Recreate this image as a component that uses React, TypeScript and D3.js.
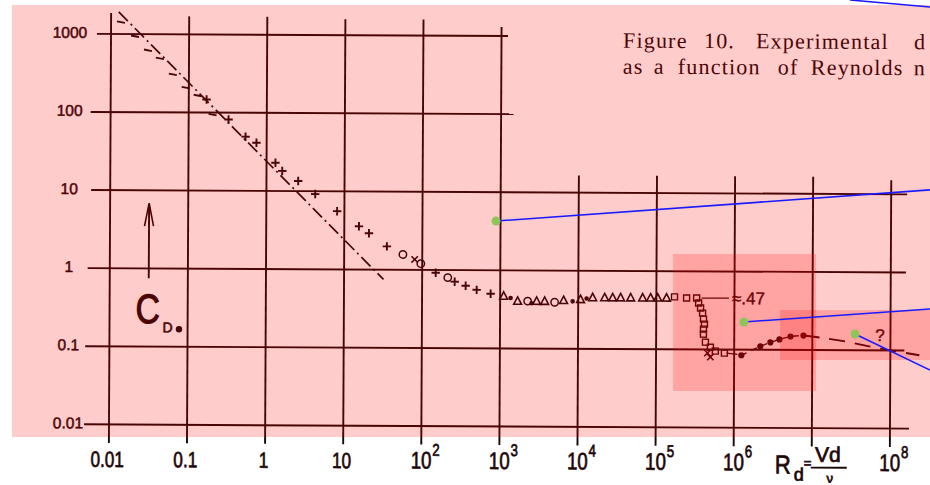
import React from "react";
import * as d3 from "d3";

const W = 930;
const H = 485;

// ---- grid (decade lines) ----
const xDecades = [0.01, 0.1, 1, 10, 100, 1e3, 1e4, 1e5, 1e6, 1e7, 1e8];
const xDecadeTop = [1857, 1700, 1700, 1603, 1603, 1304, 16.6, 16.6, 16.6, 16.6, 15.1];
const xDecadeBottom = 0.0058;
const yDecades = [1000, 100, 10, 1, 0.1, 0.01];
const yDecadeLeft = [0.0066, 0.00555, 0.0057, 0.0052, 0.0049, 0.0048];
const yDecadeRight = [1210, 1445, 1.6e8, 1.56e8, 1.51e8, 1.75e8];

// ---- tick labels ----
const xTickValues = [0.01, 0.1, 1, 10, 100, 1e3, 1e4, 1e5, 1e6, 1e8];
const xTickBase = ["0.01", "0.1", "1", "10", "10", "10", "10", "10", "10", "10"];
const xTickExp = ["", "", "", "", "2", "3", "4", "5", "6", "8"];
const yTickValues = [1000, 100, 10, 1, 0.1, 0.01];
const yTickLabels = ["1000", "100", "10", "1", "0.1", "0.01"];

// ---- Stokes line (dash-dot) ----
const stokesRe = [0.0125, 32];
const stokesCd = [1920, 0.75];

// ---- data series ----
const dashRe = [0.0134, 0.0203, 0.0298, 0.0424, 0.0622, 0.0912, 0.13, 0.202];
const dashCd = [1426, 942, 624, 493, 308, 209, 166, 94.6];

const plusRe = [0.169, 0.324, 0.536, 0.74, 1.3, 1.59, 2.55, 4.22, 8.07, 15.4, 20.7, 35.2, 149, 261, 361, 500, 755];
const plusCd = [147, 81.7, 49.4, 41.4, 23.0, 18.1, 13.5, 9.2, 5.57, 3.58, 2.92, 1.99, 0.92, 0.71, 0.63, 0.56, 0.5];

const circleRe = [56.5, 96, 213, 2250, 4990];
const circleCd = [1.57, 1.2, 0.8, 0.405, 0.393];

const crossRe = [80, 454000, 496000];
const crossCd = [1.36, 0.09, 0.08];

const triRe = [1109, 1675, 2933, 3715, 6500, 10700, 15300, 21800, 27600, 34900, 46900, 66800, 84500, 104000, 135000];
const triCd = [0.469, 0.405, 0.405, 0.405, 0.417, 0.43, 0.455, 0.455, 0.455, 0.455, 0.455, 0.455, 0.455, 0.455, 0.455];

const smallDotRe = [1362, 2530, 8480, 12800];
const smallDotCd = [0.442, 0.381, 0.405, 0.442];

const squareRe = [171000, 244000, 328000, 348000, 369000, 392000, 403000, 415000, 403000, 403000, 428000, 496000, 574000, 750000];
const squareCd = [0.469, 0.455, 0.455, 0.393, 0.339, 0.292, 0.245, 0.211, 0.182, 0.157, 0.124, 0.107, 0.0955, 0.09];

const superRe = [1.236e6, 2.16e6, 2.9e6, 3.79e6, 5.25e6, 7.69e6];
const superCd = [0.0848, 0.1107, 0.1245, 0.136, 0.1485, 0.153];

const linkRe = [7.94e5, 1.1e6];
const linkCd = [0.09, 0.087];

const extRe = [7.69e6, 1.31e7, 2.81e7, 6.82e7, 2.35e8];
const extCd = [0.153, 0.144, 0.128, 0.107, 0.0873];

const leaderRe = [3.8e5, 8.5e5];
const leaderCd = [0.455, 0.455];
const leaderLabel = "≈.47";
const leaderLabelAt = [9.3e5, 0.381];
const queryLabel = "?";
const queryLabelAt = [6.4e7, 0.132];

// ---- overlay annotations ----
const markerRe = [875, 1.31e6, 3.46e7];
const markerCd = [4.27, 0.218, 0.153];
const markerEndRe = [3.16e8, 3.16e8, 3.16e8];
const markerEndCd = [10.7, 0.32, 0.0528];
const topLineRe = [2.98e7, 3.16e8];
const topLineCd = [2890, 2350];
const highlightRe = [[1.62e5, 1.1e7], [3.8e6, 3.3e8]];
const highlightCd = [[1.62, 0.0285], [0.31, 0.071]];

// caption words and their left edges
const captionLine1 = ["Figure", "10.", "Experimental", "d"];
const captionLine1X = [622, 703, 755, 913];
const captionLine2 = ["as", "a", "function", "of", "Reynolds", "n"];
const captionLine2X = [622, 653, 677, 777, 810, 913];

const INK = "#1c0606";
const HAND = "'Liberation Sans', Arial, sans-serif";

export default function App() {
  const x = d3.scaleLog().domain([0.01, 1e8]).range([110, 891]);
  const y = d3.scaleLog().domain([0.01, 1000]).range([426.5, 36]);
  const pts = (re: number[], cd: number[]) => re.map((r, i) => [r, cd[i]] as [number, number]);
  const line = d3.line<[number, number]>().x((d) => x(d[0])).y((d) => y(d[1]));
  const curve = d3
    .line<[number, number]>()
    .x((d) => x(d[0]))
    .y((d) => y(d[1]))
    .curve(d3.curveCatmullRom);

  const markers = (re: number[], cd: number[], kind: string) =>
    pts(re, cd).map(([r, c], i) => {
      const cx = x(r);
      const cy = y(c);
      const t = `translate(${cx},${cy})`;
      if (kind === "plus")
        return <path key={i} transform={t} d="M-4.2,0H4.2M0,-4.2V4.2" stroke={INK} strokeWidth={1.9} fill="none" />;
      if (kind === "dash")
        return <path key={i} transform={t} d="M-4,-0.6L4,0.9" stroke={INK} strokeWidth={1.9} fill="none" />;
      if (kind === "circle")
        return <circle key={i} cx={cx} cy={cy} r={3.7} stroke={INK} strokeWidth={1.5} fill="none" />;
      if (kind === "cross")
        return <path key={i} transform={t} d="M-3.2,-3.2L3.2,3.2M-3.2,3.2L3.2,-3.2" stroke={INK} strokeWidth={1.5} fill="none" />;
      if (kind === "tri")
        return <path key={i} transform={t} d="M0,-4.2L3.9,3.2L-3.9,3.2Z" stroke={INK} strokeWidth={1.6} fill="none" />;
      if (kind === "square")
        return <rect key={i} x={cx - 3} y={cy - 3} width={6} height={6} stroke={INK} strokeWidth={1.4} fill="none" />;
      if (kind === "dot") return <circle key={i} cx={cx} cy={cy} r={2.3} fill={INK} />;
      return <circle key={i} cx={cx} cy={cy} r={3.1} fill={INK} />;
    });

  return (
    <svg
      width={W}
      height={H}
      viewBox={`0 0 ${W} ${H}`}
      style={{ position: "absolute", left: 0, top: 0, display: "block", background: "#fff" }}
    >
      <defs>
        <clipPath id="page">
          <rect x={0} y={0} width={W} height={H} />
        </clipPath>
      </defs>
      <g clipPath="url(#page)">
        <g transform="rotate(0.3 500 230)">
          {/* grid */}
          {xDecades.map((v, i) => (
            <line key={"gx" + i} x1={x(v)} x2={x(v)} y1={y(xDecadeTop[i])} y2={y(xDecadeBottom)} stroke={INK} strokeWidth={1.9} />
          ))}
          {yDecades.map((v, i) => (
            <line key={"gy" + i} x1={x(yDecadeLeft[i])} x2={x(yDecadeRight[i])} y1={y(v)} y2={y(v)} stroke={INK} strokeWidth={1.9} />
          ))}

          {/* y tick labels */}
          {yTickValues.map((v, i) => (
            <text
              key={"yt" + i}
              x={69}
              y={y(v) + 4}
              textAnchor="middle"
              fontFamily={HAND}
              fontSize={15.5}
              fill={INK}
              stroke={INK}
              strokeWidth={0.5}
            >
              {yTickLabels[i]}
            </text>
          ))}

          {/* x tick labels */}
          {xTickValues.map((v, i) => (
            <g key={"xt" + i} transform={`translate(${x(v)},469) scale(0.78,1)`}>
              <text
                x={xTickExp[i] ? -13.4 : -2}
                y={0}
                textAnchor={xTickExp[i] ? "start" : "middle"}
                fontFamily={HAND}
                fontSize={xTickExp[i] ? 24 : 22}
                fill={INK}
                stroke={INK}
                strokeWidth={0.7}
              >
                {xTickBase[i]}
                {xTickExp[i] ? (
                  <tspan dy={-13} dx={1} fontSize={17}>
                    {xTickExp[i]}
                  </tspan>
                ) : null}
              </text>
            </g>
          ))}

          {/* x axis title R_d = Vd/ν */}
          <g fontFamily={HAND} fill={INK} stroke={INK} strokeWidth={0.7}>
            <g transform="translate(776,472) scale(0.85,1)">
              <text x={0} y={0} fontSize={26}>R</text>
            </g>
            <text x={795} y={479} fontSize={18}>d</text>
            <text x={805} y={466} fontSize={13}>=</text>
            <text x={829} y={460} fontSize={21} textAnchor="middle">Vd</text>
            <text x={831} y={481} fontSize={13} textAnchor="middle">ν</text>
          </g>
          <line x1={812} x2={848} y1={466} y2={466} stroke={INK} strokeWidth={1.9} />

          {/* y axis title */}
          <line x1={149} x2={149} y1={280} y2={206} stroke={INK} strokeWidth={1.9} />
          <path d="M144.5,228L149,205L153.5,228" stroke={INK} strokeWidth={1.6} fill="none" />
          <g transform="translate(136,325) scale(0.82,1)">
            <text x={0} y={0} fontFamily={HAND} fontSize={41} fill={INK} stroke={INK} strokeWidth={1.2}>C</text>
          </g>
          <text x={163} y={334} fontFamily={HAND} fontSize={14} fill={INK} stroke={INK} strokeWidth={0.6}>D</text>
          <circle cx={179.5} cy={331} r={3.2} fill={INK} />

          {/* Stokes dash-dot line */}
          <path d={line(pts(stokesRe, stokesCd)) || ""} stroke={INK} strokeWidth={1.7} fill="none" strokeDasharray="13 4 2 4" />

          {/* curves */}
          <path d={line(pts(leaderRe, leaderCd)) || ""} stroke={INK} strokeWidth={1.3} fill="none" />
          <path d={line(pts(linkRe, linkCd)) || ""} stroke={INK} strokeWidth={1.4} fill="none" />
          <path d={curve(pts(superRe, superCd)) || ""} stroke={INK} strokeWidth={1.4} fill="none" strokeDasharray="6 5" />
          <path d={curve(pts(extRe, extCd)) || ""} stroke={INK} strokeWidth={1.9} fill="none" strokeDasharray="16 10" />

          {/* markers */}
          {markers(dashRe, dashCd, "dash")}
          {markers(plusRe, plusCd, "plus")}
          {markers(circleRe, circleCd, "circle")}
          {markers(crossRe, crossCd, "cross")}
          {markers(triRe, triCd, "tri")}
          {markers(smallDotRe, smallDotCd, "dot")}
          {markers(squareRe, squareCd, "square")}
          {markers(superRe, superCd, "big")}

          <text x={x(leaderLabelAt[0])} y={y(leaderLabelAt[1])} fontFamily={HAND} fontSize={17} fill={INK} stroke={INK} strokeWidth={0.4}>
            {leaderLabel}
          </text>
          <text x={x(queryLabelAt[0])} y={y(queryLabelAt[1])} fontFamily={HAND} fontSize={17} fill={INK} stroke={INK} strokeWidth={0.4}>
            {queryLabel}
          </text>

          {/* caption */}
          <g fontFamily="'Liberation Serif', 'DejaVu Serif', serif" fontSize={22} letterSpacing={1.2} fill={INK}>
            <text y={47}>
              {captionLine1.map((w, i) => (
                <tspan key={"c1" + i} x={captionLine1X[i]}>
                  {w}
                </tspan>
              ))}
            </text>
            <text y={73}>
              {captionLine2.map((w, i) => (
                <tspan key={"c2" + i} x={captionLine2X[i]}>
                  {w}
                </tspan>
              ))}
            </text>
          </g>
        </g>

        {/* pink sheet */}
        <rect x={12} y={5} width={W - 12} height={432} fill="#ff0000" opacity={0.2} />
        {/* highlight rectangles */}
        {highlightRe.map((r, i) => (
          <rect
            key={"hl" + i}
            x={x(r[0])}
            y={y(highlightCd[i][0])}
            width={x(r[1]) - x(r[0])}
            height={y(highlightCd[i][1]) - y(highlightCd[i][0])}
            fill="#ff0000"
            opacity={0.2}
          />
        ))}

        {/* blue pointer lines */}
        <path d={line(pts(topLineRe, topLineCd)) || ""} stroke="#1a1aff" strokeWidth={1.6} fill="none" />
        {markerRe.map((r, i) => (
          <g key={"mk" + i}>
            <line x1={x(r)} y1={y(markerCd[i])} x2={x(markerEndRe[i])} y2={y(markerEndCd[i])} stroke="#1a1aff" strokeWidth={1.6} />
            <circle cx={x(r)} cy={y(markerCd[i])} r={4.5} fill="#8dc55a" />
          </g>
        ))}
      </g>
    </svg>
  );
}
